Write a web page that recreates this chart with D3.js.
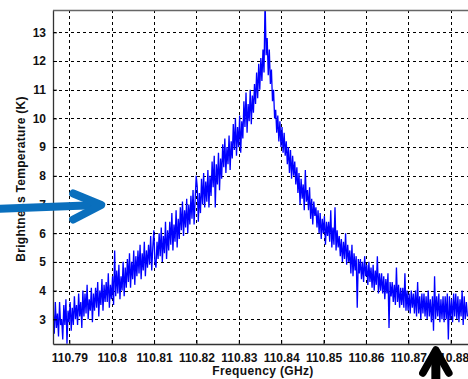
<!DOCTYPE html>
<html>
<head>
<meta charset="utf-8">
<script src="https://cdn.jsdelivr.net/npm/d3@7"></script>
<style>
  html, body { margin: 0; padding: 0; background: #fff; }
  svg { display: block; }
</style>
</head>
<body>
<script>
// Spectrum sampling: first frequency and spacing (GHz)
const freqStart = 110.7862;
const freqStep = 0.00025;

// Brightness temperature samples (K), one per frequency step
const brightness = [
  3.3, 2.5, 3.6, 2.7, 3.2, 2.4, 3.6, 2.8, 3.0, 2.3,
  3.5, 2.8, 3.7, 2.15, 3.3, 2.9, 3.6, 2.6, 3.4, 2.8,
  3.8, 3.0, 3.5, 2.8, 3.9, 3.1, 3.6, 2.7, 4.0, 3.1,
  3.9, 3.2, 4.2, 3.0, 3.7, 3.3, 4.1, 2.9, 3.9, 3.3,
  4.1, 3.4, 4.3, 3.1, 4.0, 3.5, 4.4, 3.3, 4.2, 3.6,
  4.3, 3.6, 4.6, 3.4, 4.2, 3.7, 4.5, 3.5, 5.4, 3.8,
  4.7, 3.9, 4.9, 3.7, 4.5, 4.0, 5.0, 3.8, 4.8, 4.1,
  5.1, 4.3, 5.3, 4.1, 5.0, 4.4, 5.4, 4.2, 5.2, 4.5,
  5.4, 4.6, 5.6, 4.4, 5.3, 4.7, 5.7, 4.5, 5.4, 4.8,
  5.6, 4.9, 5.9, 4.7, 5.5, 6.1, 5.0, 4.8, 5.7, 5.1,
  6.0, 5.2, 6.2, 5.0, 5.9, 5.3, 6.4, 5.1, 6.1, 5.4,
  6.4, 5.6, 6.7, 5.4, 6.3, 5.7, 6.8, 5.5, 6.5, 5.8,
  6.9, 6.1, 7.1, 5.9, 6.8, 6.2, 7.2, 6.0, 7.0, 6.3,
  7.3, 6.5, 7.5, 6.3, 7.2, 8.0, 7.6, 6.4, 7.4, 6.7,
  7.9, 7.0, 8.1, 6.9, 7.8, 7.1, 8.2, 6.9, 8.0, 7.3,
  8.5, 7.6, 8.7, 6.9, 8.4, 7.7, 8.8, 7.5, 8.6, 7.9,
  9.1, 8.3, 9.3, 8.1, 9.0, 8.4, 9.4, 8.2, 9.2, 8.6,
  9.8, 8.9, 10.0, 8.7, 9.7, 9.0, 10.1, 8.8, 9.9, 9.3,
  10.6, 9.7, 10.9, 9.5, 10.5, 9.9, 11.0, 9.8, 10.8, 10.2,
  11.2, 10.5, 11.6, 10.7, 11.9, 11.0, 12.1, 11.3, 12.4, 11.6,
  14.2, 12.2, 12.8, 11.5, 12.4, 11.2, 11.7, 10.6, 11.0, 10.0,
  10.3, 9.5, 10.1, 9.2, 9.9, 9.0, 9.7, 8.8, 9.5, 8.7,
  9.2, 8.4, 9.0, 8.1, 8.9, 7.9, 8.7, 8.0, 8.5, 7.7,
  8.3, 7.4, 8.1, 7.0, 7.9, 7.2, 7.7, 6.8, 8.2, 7.1,
  7.5, 6.8, 7.6, 6.5, 7.2, 6.3, 7.1, 6.6, 6.9, 6.2,
  6.8, 6.0, 6.7, 5.8, 6.5, 6.0, 6.6, 5.6, 6.4, 5.9,
  6.4, 5.7, 6.8, 5.5, 6.2, 5.6, 6.9, 5.4, 6.1, 5.5,
  5.9, 5.2, 5.8, 5.0, 5.7, 5.1, 6.0, 4.9, 5.6, 5.0,
  5.4, 4.6, 5.6, 4.5, 5.3, 4.7, 5.2, 3.4, 5.1, 4.6,
  5.1, 4.4, 5.0, 4.3, 5.2, 4.5, 4.9, 4.2, 5.0, 4.3,
  4.8, 4.1, 4.9, 4.0, 4.7, 4.2, 5.2, 3.9, 4.6, 4.0,
  4.6, 3.9, 4.5, 3.7, 4.4, 3.9, 4.6, 2.7, 4.3, 3.8,
  4.3, 3.6, 4.2, 3.5, 4.8, 3.6, 4.2, 3.4, 4.1, 3.5,
  4.1, 3.4, 4.6, 3.3, 4.0, 3.3, 3.9, 3.2, 4.0, 3.4,
  3.9, 3.2, 4.0, 3.1, 4.3, 3.2, 3.8, 3.0, 3.9, 3.2,
  3.9, 3.1, 3.8, 3.0, 4.0, 3.1, 3.7, 2.9, 3.8, 2.6,
  4.5, 3.0, 3.8, 3.1, 3.9, 2.9, 3.7, 3.0, 3.8, 2.9,
  3.8, 3.0, 3.9, 2.3, 3.8, 3.0, 3.7, 2.9, 3.9, 3.1,
  3.9, 3.0, 3.8, 2.9, 3.7, 3.1, 4.0, 2.8, 3.8, 3.0, 3.6, 3.1
];

// Axis ticks
const freqTicks = [110.79, 110.80, 110.81, 110.82, 110.83, 110.84, 110.85, 110.86, 110.87, 110.88];
const freqTickLabels = ["110.79", "110.8", "110.81", "110.82", "110.83", "110.84", "110.85", "110.86", "110.87", "110.88"];
const tempTicks = [3, 4, 5, 6, 7, 8, 9, 10, 11, 12, 13];

// Axis ranges
const freqDomain = [110.78615, 110.88456];
const tempDomain = [2.139, 13.777];

// Axis titles
const xTitle = "Frequency (GHz)";
const yTitle = "Brightness Temperature (K)";

const W = 468, H = 379;
const plot = { left: 53, top: 10, right: 470, bottom: 344 };

const svg = d3.select("body").append("svg")
  .attr("width", W).attr("height", H)
  .style("font-family", "'Liberation Sans', Arial, sans-serif");

const x = d3.scaleLinear().domain(freqDomain).range([plot.left, plot.right]);
const y = d3.scaleLinear().domain(tempDomain).range([plot.bottom, plot.top]);

svg.append("defs").append("clipPath").attr("id", "plot-clip")
  .append("rect")
  .attr("x", plot.left).attr("y", plot.top)
  .attr("width", plot.right - plot.left).attr("height", plot.bottom - plot.top);

// Dashed grid
const grid = svg.append("g").attr("class", "grid");
grid.selectAll("line.vx").data(freqTicks).join("line")
  .attr("x1", d => Math.round(x(d)) + 0.5).attr("x2", d => Math.round(x(d)) + 0.5)
  .attr("y1", plot.top).attr("y2", plot.bottom)
  .attr("stroke", "#000").attr("stroke-width", 1).attr("stroke-dasharray", "3,3");
grid.selectAll("line.hy").data(tempTicks).join("line")
  .attr("y1", d => Math.round(y(d)) + 0.5).attr("y2", d => Math.round(y(d)) + 0.5)
  .attr("x1", plot.left).attr("x2", plot.right)
  .attr("stroke", "#000").attr("stroke-width", 1).attr("stroke-dasharray", "3,3");

// Spectrum trace
const line = d3.line()
  .x((d, i) => x(freqStart + i * freqStep))
  .y(d => y(d));
svg.append("path")
  .datum(brightness)
  .attr("clip-path", "url(#plot-clip)")
  .attr("fill", "none")
  .attr("stroke", "#0000ff")
  .attr("stroke-width", 1.3)
  .attr("stroke-linejoin", "miter")
  .attr("d", line);

// Axes
const xAxis = d3.axisBottom(x).tickValues(freqTicks)
  .tickFormat((d, i) => freqTickLabels[i]).tickSizeInner(-4).tickSizeOuter(0).tickPadding(9);
const gx = svg.append("g").attr("transform", `translate(0,${plot.bottom})`).call(xAxis);
const yAxis = d3.axisLeft(y).tickValues(tempTicks).tickSizeInner(-4).tickSizeOuter(0).tickPadding(7);
const gy = svg.append("g").attr("transform", `translate(${plot.left},0)`).call(yAxis);

[gx, gy].forEach(g => {
  g.select(".domain").attr("stroke", "#333").attr("stroke-width", 1.3);
  g.selectAll(".tick line").attr("stroke", "#000");
  g.selectAll(".tick text")
    .attr("fill", "#111").style("font-size", "12px").style("font-weight", "bold");
});

// Top frame edge
svg.append("line")
  .attr("x1", plot.left).attr("x2", plot.right)
  .attr("y1", plot.top + 0.5).attr("y2", plot.top + 0.5)
  .attr("stroke", "#666").attr("stroke-width", 1.3);

// Axis titles
svg.append("text")
  .attr("x", 263).attr("y", 375)
  .attr("text-anchor", "middle")
  .style("font-size", "12px").style("font-weight", "bold").style("letter-spacing", "0.35px")
  .attr("fill", "#111")
  .text(xTitle);
svg.append("text")
  .attr("transform", "translate(25,179) rotate(-90)")
  .attr("text-anchor", "middle")
  .style("font-size", "12px").style("font-weight", "bold").style("letter-spacing", "0.3px")
  .attr("fill", "#111")
  .text(yTitle);

// Annotation arrows
const blueTip = [x(110.798), y(7.0)];
svg.append("path")
  .attr("d", `M${-6},${blueTip[1] + 4.5} L${blueTip[0] - 4},${blueTip[1] + 0.5}`)
  .attr("stroke", "#0a6fbd").attr("stroke-width", 8).attr("stroke-linecap", "round")
  .attr("fill", "none");
svg.append("path")
  .attr("d", `M${blueTip[0] - 30},${blueTip[1] - 11} L${blueTip[0] - 2},${blueTip[1] + 0.5} L${blueTip[0] - 30},${blueTip[1] + 15}`)
  .attr("stroke", "#0a6fbd").attr("stroke-width", 8).attr("stroke-linecap", "round")
  .attr("stroke-linejoin", "round").attr("fill", "none");

const blackTip = [x(110.8765), plot.bottom + 3];
svg.append("path")
  .attr("d", `M${blackTip[0]},${blackTip[1] + 4} L${blackTip[0]},${H + 10}`)
  .attr("stroke", "#000").attr("stroke-width", 9).attr("fill", "none");
svg.append("path")
  .attr("d", `M${blackTip[0] - 13},${blackTip[1] + 26} L${blackTip[0]},${blackTip[1] + 3} L${blackTip[0] + 13},${blackTip[1] + 26}`)
  .attr("stroke", "#000").attr("stroke-width", 7.5).attr("stroke-linecap", "round")
  .attr("stroke-linejoin", "round").attr("fill", "none");
</script>
</body>
</html>
